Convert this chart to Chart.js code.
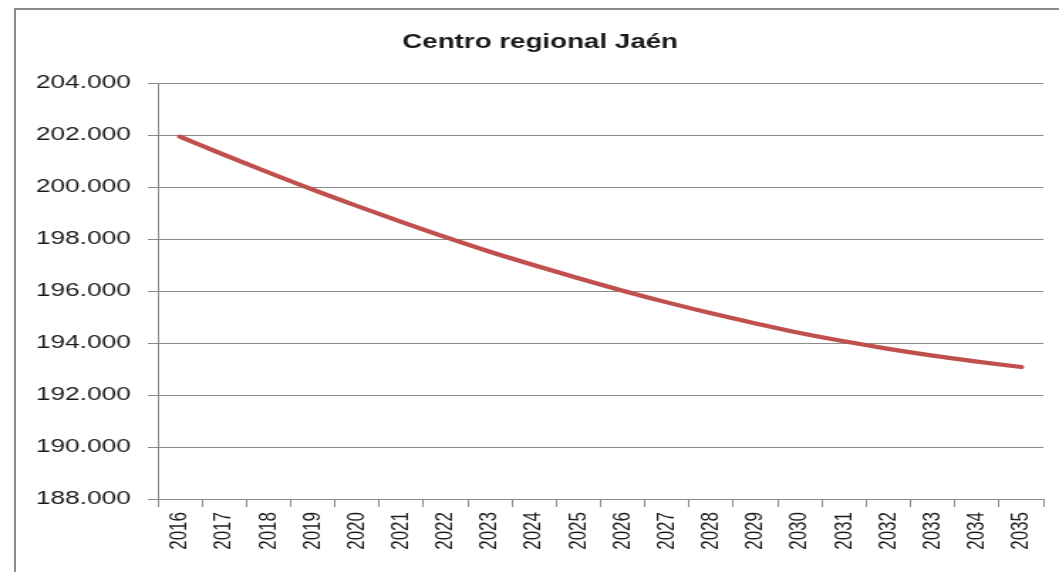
<!DOCTYPE html>
<html lang="es">
<head>
    <meta charset="UTF-8">
    <title>Centro regional Jaén</title>
    <style>
        body {
            margin: 0;
            background: #fff;
            overflow: hidden;
        }
        #frame {
            position: absolute;
            left: 14px;
            top: 8px;
            width: 1100px;
            height: 600px;
            border: 2px solid #8c8c8c;
        }
        #chart {
            position: absolute;
            left: 0;
            top: 0;
        }
    </style>
    <script src="https://cdn.jsdelivr.net/npm/chart.js"></script>
</head>
<body>
    <div id="frame"></div>
    <!-- drawn narrower then stretched, like the original picture -->
    <canvas id="chart" width="745" height="572" style="width: 1059px; height: 572px;"></canvas>

    <script>
        const years = ['2016', '2017', '2018', '2019', '2020', '2021', '2022', '2023', '2024', '2025',
                       '2026', '2027', '2028', '2029', '2030', '2031', '2032', '2033', '2034', '2035'];
        const population = [201950, 201250, 200570, 199910, 199280, 198670, 198080, 197520, 197000, 196500,
                            196020, 195570, 195150, 194760, 194390, 194070, 193780, 193520, 193290, 193080];
        const yMin = 188000;
        const yMax = 204000;
        const yStep = 2000;

        const gridColor = '#8a8a8a';
        const textColor = '#1a1a1a';

        new Chart(document.getElementById('chart'), {
            type: 'line',
            data: {
                labels: years,
                datasets: [{
                    label: 'Centro regional Jaén',
                    data: population,
                    borderColor: '#c0504d',
                    borderWidth: 4.2,
                    borderCapStyle: 'round',
                    pointRadius: 0,
                    tension: 0.4,
                    cubicInterpolationMode: 'monotone',
                    fill: false
                }]
            },
            options: {
                responsive: false,
                animation: false,
                devicePixelRatio: 1,
                layout: {
                    padding: { left: 26, right: 11, top: 0, bottom: 0 }
                },
                plugins: {
                    legend: { display: false },
                    tooltip: { enabled: false },
                    title: {
                        display: true,
                        text: 'Centro regional Jaén',
                        color: textColor,
                        font: { family: '"Liberation Sans", Arial, sans-serif', size: 19.5, weight: 'bold' },
                        padding: { top: 31, bottom: 29 }
                    }
                },
                scales: {
                    x: {
                        offset: true,
                        grid: {
                            offset: true,
                            drawOnChartArea: false,
                            drawTicks: true,
                            tickLength: 8,
                            color: gridColor
                        },
                        border: { color: gridColor },
                        ticks: {
                            minRotation: 90,
                            maxRotation: 90,
                            autoSkip: false,
                            padding: 5,
                            color: textColor,
                            font: { family: '"Liberation Sans", Arial, sans-serif', size: 17 }
                        },
                        afterFit: (scale) => { scale.height = 73; }
                    },
                    y: {
                        min: yMin,
                        max: yMax,
                        grid: {
                            color: gridColor,
                            tickLength: 7
                        },
                        border: { color: gridColor },
                        ticks: {
                            stepSize: yStep,
                            padding: 12,
                            color: textColor,
                            font: { family: '"Liberation Sans", Arial, sans-serif', size: 18.5 },
                            callback: (v) => (v / 1000).toFixed(3)
                        },
                        afterFit: (scale) => { scale.width = 85; }
                    }
                }
            }
        });
    </script>
</body>
</html>
